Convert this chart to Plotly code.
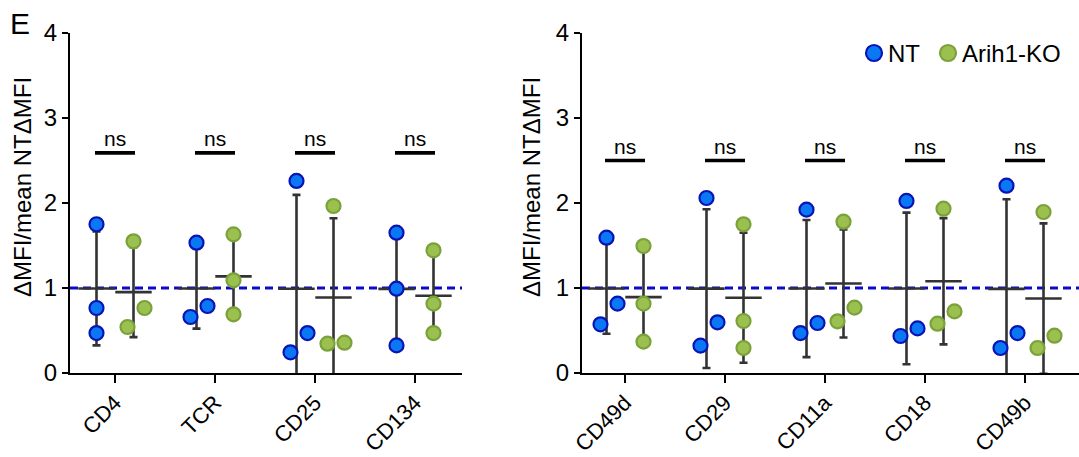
import numpy as np
import plotly.graph_objects as go

# ---- data -------------------------------------------------------------
markers_left = ["CD4", "TCR", "CD25", "CD134"]
nt_left = [[1.75, 0.765, 0.47], [1.533, 0.659, 0.788], [2.26, 0.243, 0.47], [1.651, 0.992, 0.325]]
ko_left = [[1.549, 0.541, 0.765], [1.631, 1.09, 0.69], [1.965, 0.345, 0.357], [1.443, 0.816, 0.47]]
sig_left = ["ns", "ns", "ns", "ns"]

markers_right = ["CD49d", "CD29", "CD11a", "CD18", "CD49b"]
nt_right = [[1.592, 0.573, 0.816], [2.059, 0.322, 0.596], [1.922, 0.47, 0.588],
            [2.024, 0.435, 0.525], [2.204, 0.294, 0.47]]
ko_right = [[1.494, 0.816, 0.369], [1.749, 0.612, 0.294], [1.78, 0.608, 0.769],
            [1.933, 0.58, 0.725], [1.894, 0.294, 0.439]]
sig_right = ["ns", "ns", "ns", "ns", "ns"]

y_ticks = [0, 1, 2, 3, 4]

# ---- point spreading (scatter-dot-plot style), in category units ------
nt_spread_left = [[0, 0, 0], [0, -1, 1], [0, -1, 1], [0, 0, 0]]
ko_spread_left = [[0, -1, 1], [0, 0, 0], [0, -1, 1], [0, 0, 0]]
nt_spread_right = [[0, -1, 1]] * 5
ko_spread_right = [[0, 0, 0], [0, 0, 0], [0, -1, 1], [0, -1, 1], [0, -1, 1]]
SPREAD = {-1: -0.06, 0: 0.0, 1: 0.11}
GROUP_OFFSET = {"NT": -0.185, "KO": 0.185}

# ---- styles -----------------------------------------------------------
FONT = "Liberation Sans, Arial, Helvetica, sans-serif"
NT_FILL, NT_EDGE = "#0a78f5", "#0a14b4"
KO_FILL, KO_EDGE = "#9cc050", "#7aa23a"
BAR_COLOR = "#333333"
REF_COLOR = "#0a0ac8"

W, H = 1079, 457
PLOT_TOP, PLOT_BOTTOM = 33, 373
ydom = [(H - PLOT_BOTTOM) / H, (H - PLOT_TOP) / H]

fig = go.Figure()


def add_group(values, spread, offset, fill, edge, xa, ya):
    # mean +/- SD bars first, so the dots sit on top
    cx, means, sds = [], [], []
    for i, vals in enumerate(values):
        v = np.array(vals)
        cx.append(i + offset)
        means.append(v.mean())
        sds.append(v.std(ddof=1))
    fig.add_trace(go.Scatter(
        x=cx, y=means, mode="markers", xaxis=xa, yaxis=ya, showlegend=False,
        marker=dict(symbol="line-ew", size=26, color=BAR_COLOR,
                    line=dict(color=BAR_COLOR, width=2.6)),
        error_y=dict(type="data", array=sds, visible=True, color=BAR_COLOR,
                     thickness=2.6, width=4),
        hoverinfo="skip"))
    px, py = [], []
    for i, vals in enumerate(values):
        for v, s in zip(vals, spread[i]):
            px.append(i + offset + SPREAD[s])
            py.append(v)
    fig.add_trace(go.Scatter(
        x=px, y=py, mode="markers", xaxis=xa, yaxis=ya, showlegend=False,
        marker=dict(size=14, color=fill, line=dict(color=edge, width=2.2))))


def panel(cats, nt, ko, nt_sp, ko_sp, sig, xa, ya, xdom, xrange, sig_y):
    axn = xa.replace("x", "xaxis") if xa != "x" else "xaxis"
    ayn = ya.replace("y", "yaxis") if ya != "y" else "yaxis"
    # reference line at the NT mean
    fig.add_shape(type="line", xref=f"{xa} domain", yref=ya, x0=0, x1=1, y0=1, y1=1,
                  line=dict(color=REF_COLOR, width=2.8, dash="8px,5px"), layer="below")
    add_group(nt, nt_sp, GROUP_OFFSET["NT"], NT_FILL, NT_EDGE, xa, ya)
    add_group(ko, ko_sp, GROUP_OFFSET["KO"], KO_FILL, KO_EDGE, xa, ya)
    for i, s in enumerate(sig):
        fig.add_shape(type="line", xref=xa, yref=ya, x0=i - 0.2, x1=i + 0.2,
                      y0=sig_y, y1=sig_y, line=dict(color="black", width=3.6))
        fig.add_annotation(x=i, y=sig_y, xref=xa, yref=ya, text=s, showarrow=False,
                           yanchor="bottom", yshift=1,
                           font=dict(family=FONT, size=21, color="black"))
    fig.layout[axn] = dict(
        domain=xdom, range=xrange, anchor=ya, tickmode="array", automargin=False,
        tickvals=list(range(len(cats))), ticktext=cats, tickangle=-45,
        ticks="outside", ticklen=8, tickwidth=2.2, tickcolor="black",
        ticklabelstandoff=-2,
        showline=True, linecolor="black", linewidth=2.4, showgrid=False,
        zeroline=False, tickfont=dict(family=FONT, size=22, color="black"))
    fig.layout[ayn] = dict(
        domain=ydom, range=[0, 4], anchor=xa, tickmode="array", tickvals=y_ticks,
        automargin=False,
        ticks="outside", ticklen=6, tickwidth=2.2, tickcolor="black",
        showline=True, linecolor="black", linewidth=2.4, showgrid=False,
        zeroline=False, tickfont=dict(family=FONT, size=24, color="black"))


panel(markers_left, nt_left, ko_left, nt_spread_left, ko_spread_left, sig_left,
      "x", "y", [70 / W, 462 / W], [-0.45, 3.47], 2.59)
panel(markers_right, nt_right, ko_right, nt_spread_right, ko_spread_right, sig_right,
      "x2", "y2", [582 / W, 1.0], [-0.43, 4.54], 2.50)

# y-axis titles
for xc in (22 / W, 531 / W):
    fig.add_annotation(x=xc, y=1 - 187 / H, xref="paper", yref="paper",
                       text="ΔMFI/mean NTΔMFI", textangle=-90, showarrow=False,
                       xanchor="center", yanchor="middle",
                       font=dict(family=FONT, size=24, color="black"))

# panel letter
fig.add_annotation(x=20 / W, y=1 - 23 / H, xref="paper", yref="paper", text="E",
                   showarrow=False, xanchor="center", yanchor="middle",
                   font=dict(family=FONT, size=30, color="black"))

# legend
for cx, fill, edge, label in ((874, NT_FILL, NT_EDGE, "NT"), (948, KO_FILL, KO_EDGE, "Arih1-KO")):
    fig.add_shape(type="circle", xref="paper", yref="paper",
                  xsizemode="pixel", ysizemode="pixel",
                  xanchor=cx / W, yanchor=1 - 53 / H, x0=-8, x1=8, y0=-8, y1=8,
                  fillcolor=fill, line=dict(color=edge, width=2.2))
    fig.add_annotation(x=(cx + 12) / W, y=1 - 53 / H, xref="paper", yref="paper",
                       text=label, showarrow=False, xanchor="left", yanchor="middle",
                       font=dict(family=FONT, size=24, color="black"))

fig.update_layout(width=W, height=H, margin=dict(l=0, r=0, t=0, b=0, autoexpand=False),
                  paper_bgcolor="white", plot_bgcolor="white", showlegend=False)

fig.write_html("out.html")
